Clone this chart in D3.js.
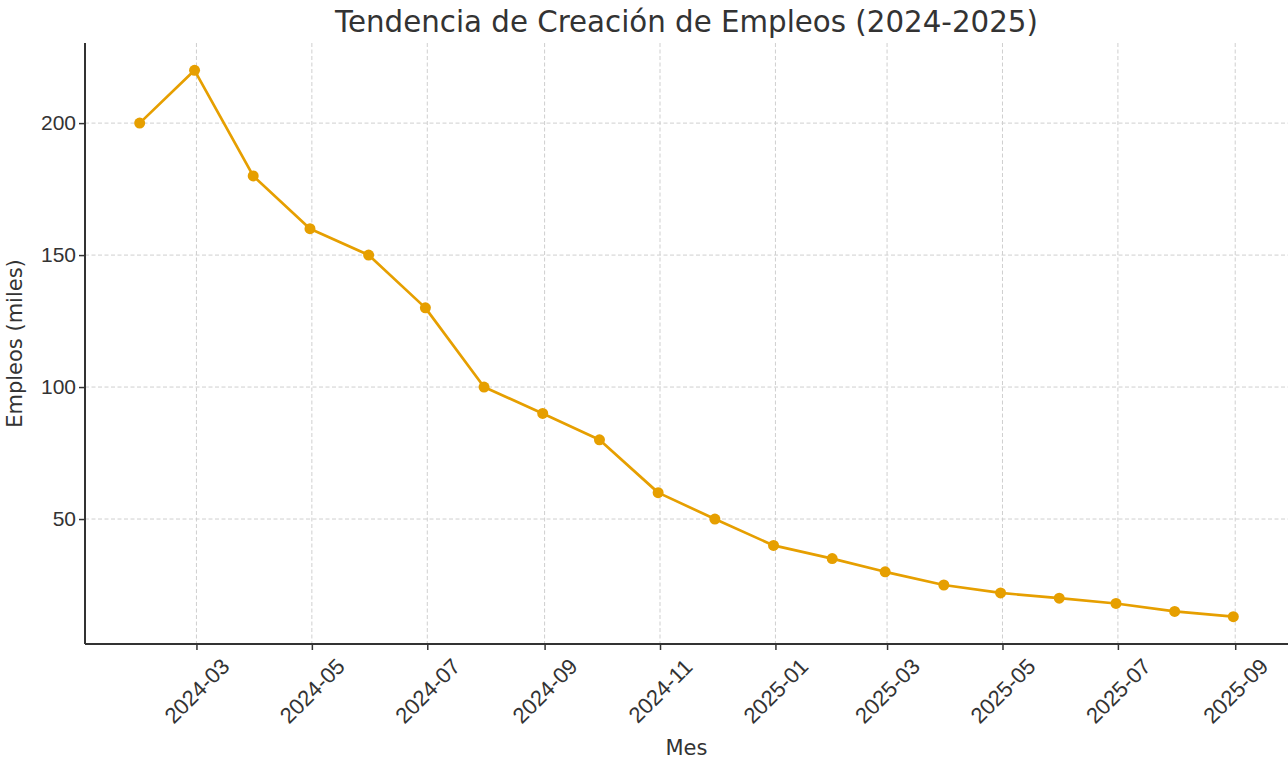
<!DOCTYPE html>
<html>
<head>
<meta charset="utf-8">
<script src="https://cdn.jsdelivr.net/npm/d3@7"></script>
<style>
  body { margin: 0; background: #fff; }
  svg { display: block; font-family: "DejaVu Sans", sans-serif; }
  .tick text { fill: #333; }
</style>
</head>
<body>
<svg id="chart" width="1288" height="764"></svg>
<script>
// month-end dates, one point per month
const fechas = [
    "2024-01-31", "2024-02-29", "2024-03-31", "2024-04-30", "2024-05-31",
    "2024-06-30", "2024-07-31", "2024-08-31", "2024-09-30", "2024-10-31",
    "2024-11-30", "2024-12-31", "2025-01-31", "2025-02-28", "2025-03-31",
    "2025-04-30", "2025-05-31", "2025-06-30", "2025-07-31", "2025-08-31"
];
const empleos = [200, 220, 180, 160, 150, 130, 100, 90, 80, 60, 50, 40, 35, 30, 25, 22, 20, 18, 15, 13];
const yTicks = [50, 100, 150, 200];
const xTickLabels = ["2024-03", "2024-05", "2024-07", "2024-09", "2024-11", "2025-01",
                     "2025-03", "2025-05", "2025-07", "2025-09"];

const title = "Tendencia de Creación de Empleos (2024-2025)";
const xLabel = "Mes";
const yLabel = "Empleos (miles)";

const parse = d3.utcParse("%Y-%m-%d");
const data = fechas.map((f, i) => ({ date: parse(f), value: empleos[i] }));

const mLeft = 85, mRight = 1288, mTop = 43, mBottom = 644;

// 5% padding like matplotlib
const xExt = d3.extent(data, d => +d.date);
const xPad = (xExt[1] - xExt[0]) * 0.05;
const yExt = d3.extent(data, d => d.value);
const yPad = (yExt[1] - yExt[0]) * 0.05;

const xScale = d3.scaleUtc()
    .domain([new Date(xExt[0] - xPad), new Date(xExt[1] + xPad)])
    .range([mLeft, mRight]);

const yScale = d3.scaleLinear()
    .domain([yExt[0] - yPad, yExt[1] + yPad])
    .range([mBottom, mTop]);

const xTicks = xTickLabels.map(d3.utcParse("%Y-%m"));

const svg = d3.select("#chart");

// grid
svg.append("g")
    .selectAll("line")
    .data(xTicks)
    .join("line")
    .attr("x1", d => xScale(d)).attr("x2", d => xScale(d))
    .attr("y1", mTop).attr("y2", mBottom)
    .attr("stroke", "#cfcfcf")
    .attr("stroke-width", 1)
    .attr("stroke-dasharray", "4,2.5");

svg.append("g")
    .selectAll("line")
    .data(yTicks)
    .join("line")
    .attr("x1", mLeft).attr("x2", mRight)
    .attr("y1", d => yScale(d)).attr("y2", d => yScale(d))
    .attr("stroke", "#cfcfcf")
    .attr("stroke-width", 1)
    .attr("stroke-dasharray", "4,2.5");

// x axis
const xAxis = svg.append("g")
    .attr("transform", `translate(0,${mBottom})`)
    .call(d3.axisBottom(xScale).tickValues(xTicks).tickSize(6).tickFormat(d3.utcFormat("%Y-%m")));
xAxis.select(".domain").attr("stroke", "#333").attr("stroke-width", 2).attr("d", `M${mLeft},0H${mRight}`);
xAxis.selectAll(".tick line").attr("stroke", "#333").attr("stroke-width", 1.5);
xAxis.selectAll(".tick text")
    .attr("font-size", 22)
    .attr("text-anchor", "middle")
    .attr("dominant-baseline", "central")
    .attr("y", null).attr("dy", null)
    .attr("transform", "translate(0,47) rotate(-45)");

// y axis
const yAxis = svg.append("g")
    .attr("transform", `translate(${mLeft},0)`)
    .call(d3.axisLeft(yScale).tickValues(yTicks).tickSize(6));
yAxis.select(".domain").attr("stroke", "#333").attr("stroke-width", 2).attr("d", `M0,${mTop}V${mBottom}`);
yAxis.selectAll(".tick line").attr("stroke", "#333").attr("stroke-width", 1.5);
yAxis.selectAll(".tick text").attr("font-size", 21).attr("x", -9);

// line + markers
svg.append("path")
    .datum(data)
    .attr("fill", "none")
    .attr("stroke", "#E69F00")
    .attr("stroke-width", 2.7)
    .attr("stroke-linejoin", "round")
    .attr("d", d3.line().x(d => xScale(d.date)).y(d => yScale(d.value)));

svg.append("g")
    .selectAll("circle")
    .data(data)
    .join("circle")
    .attr("cx", d => xScale(d.date))
    .attr("cy", d => yScale(d.value))
    .attr("r", 5.5)
    .attr("fill", "#E69F00");

// labels
svg.append("text")
    .attr("x", (mLeft + mRight) / 2)
    .attr("y", 32)
    .attr("text-anchor", "middle")
    .attr("font-size", 29.3)
    .attr("fill", "#333")
    .text(title);

svg.append("text")
    .attr("x", (mLeft + mRight) / 2)
    .attr("y", 755)
    .attr("text-anchor", "middle")
    .attr("font-size", 21)
    .attr("fill", "#333")
    .text(xLabel);

svg.append("text")
    .attr("transform", `translate(22,${(mTop + mBottom) / 2}) rotate(-90)`)
    .attr("text-anchor", "middle")
    .attr("font-size", 21)
    .attr("fill", "#333")
    .text(yLabel);
</script>
</body>
</html>
